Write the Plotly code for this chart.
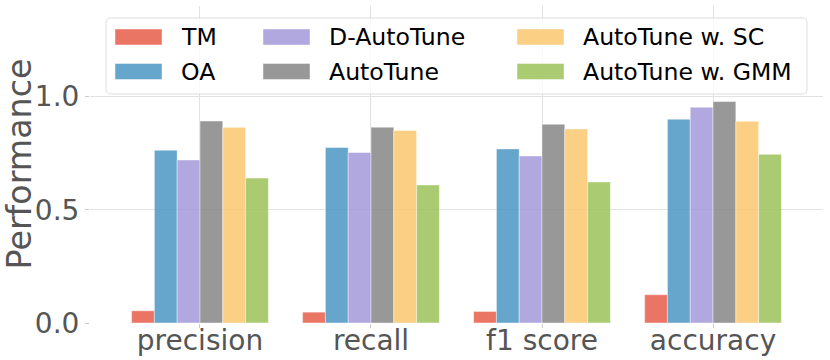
import plotly.graph_objects as go

categories = ["precision", "recall", "f1 score", "accuracy"]
series_names = ["TM", "OA", "D-AutoTune", "AutoTune", "AutoTune w. SC", "AutoTune w. GMM"]
tm = [0.054, 0.048, 0.051, 0.125]
oa = [0.763, 0.775, 0.769, 0.900]
d_autotune = [0.720, 0.753, 0.738, 0.953]
autotune = [0.892, 0.865, 0.878, 0.978]
autotune_sc = [0.864, 0.850, 0.857, 0.891]
autotune_gmm = [0.640, 0.610, 0.623, 0.745]
y_ticks = [0.0, 0.5, 1.0]
y_tick_labels = ["0.0", "0.5", "1.0"]
y_label = "Performance"

values = [tm, oa, d_autotune, autotune, autotune_sc, autotune_gmm]
colors = ["#E85E4B", "#4C96C4", "#A499DA", "#878787", "#FBC86F", "#9CC359"]

W, H = 830, 360
L, R, T, B = 90, 7, 6, 37
pw, ph = W - L - R, H - T - B

def px_x(px):
    return (px - L) / pw

def px_y(py):
    return (H - B - py) / ph

FONT = "DejaVu Sans"
fig = go.Figure()
for name, vals, col in zip(series_names, values, colors):
    fig.add_trace(go.Bar(
        x=categories, y=vals, name=name,
        marker=dict(color=col, line=dict(color="rgba(255,255,255,0.45)", width=1)),
        opacity=0.85, showlegend=False,
    ))

# legend frame with rounded corners (pixel layout converted to paper coords)
bx0, bx1, by0, by1, rad = 106, 807, 18, 94, 5
def P(x, y):
    return f"{px_x(x):.5f},{px_y(y):.5f}"
frame_path = (
    f"M {P(bx0 + rad, by0)} L {P(bx1 - rad, by0)} Q {P(bx1, by0)} {P(bx1, by0 + rad)} "
    f"L {P(bx1, by1 - rad)} Q {P(bx1, by1)} {P(bx1 - rad, by1)} "
    f"L {P(bx0 + rad, by1)} Q {P(bx0, by1)} {P(bx0, by1 - rad)} "
    f"L {P(bx0, by0 + rad)} Q {P(bx0, by0)} {P(bx0 + rad, by0)} Z"
)
shapes = [dict(
    type="path", xref="paper", yref="paper", path=frame_path,
    line=dict(color="#dddddd", width=1), fillcolor="rgba(255,255,255,0.8)",
    layer="above",
)]
annotations = []
col_x = [115, 263, 517]
row_y = [37, 71.5]
for i, (name, col) in enumerate(zip(series_names, colors)):
    c, r = divmod(i, 2)
    sx, sy = col_x[c], row_y[r]
    shapes.append(dict(
        type="rect", xref="paper", yref="paper",
        x0=px_x(sx), x1=px_x(sx + 47), y0=px_y(sy + 8), y1=px_y(sy - 8),
        line=dict(color="rgba(255,255,255,0.45)", width=1), fillcolor=col, opacity=0.85,
        layer="above",
    ))
    annotations.append(dict(
        text=name, xref="paper", yref="paper", x=px_x(sx + 64), y=px_y(sy),
        xanchor="left", yanchor="middle", showarrow=False,
        font=dict(family=FONT, size=23.6, color="#000000"),
    ))

annotations.append(dict(
    text=y_label, xref="paper", yref="paper", x=px_x(19), y=0.5,
    textangle=-90, showarrow=False, xanchor="center", yanchor="middle",
    font=dict(family=FONT, size=33.3, color="#555555"),
))

fig.update_layout(
    width=W, height=H,
    margin=dict(l=L, r=R, t=T, b=B, autoexpand=False),
    paper_bgcolor="white", plot_bgcolor="white",
    barmode="group", bargap=0.2, bargroupgap=0,
    font=dict(family=FONT, size=28, color="#555555"),
    shapes=shapes, annotations=annotations,
    showlegend=False,
)
fig.update_xaxes(
    range=[-0.643, 3.643], showgrid=True, gridcolor="#e2e2e2", gridwidth=1,
    ticks="outside", ticklen=4, tickcolor="#cccccc", showline=False, zeroline=False,
    automargin=False, ticklabelstandoff=-12,
    tickfont=dict(family=FONT, size=28, color="#555555"),
)
fig.update_yaxes(
    range=[0, 1.4], tickvals=y_ticks, ticktext=y_tick_labels,
    showgrid=True, gridcolor="#e2e2e2", gridwidth=1,
    ticks="outside", ticklen=4, tickcolor="#cccccc", showline=False, zeroline=False,
    automargin=False,
    tickfont=dict(family=FONT, size=28, color="#555555"),
)
fig.write_html(
    "out.html",
    config={"displayModeBar": False},
    post_script="document.body.style.margin='0';document.body.style.overflow='hidden';",
)
